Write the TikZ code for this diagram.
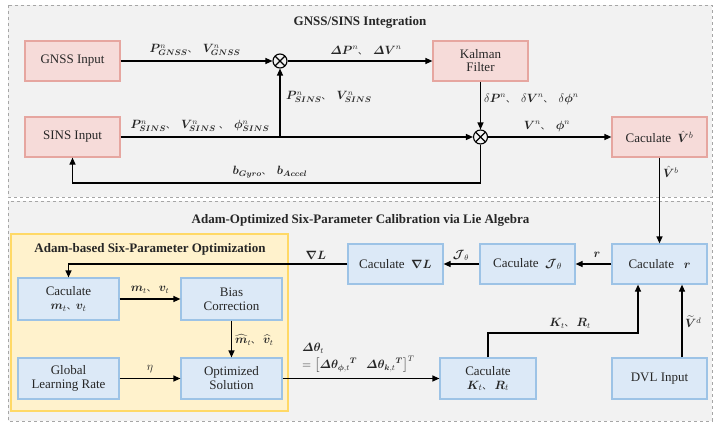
\documentclass[tikz,border=0pt]{standalone}
\usepackage{amsmath,bm}
\usepackage{fontspec}
\setmainfont{Liberation Serif}
\newfontfamily\cjkfont{Noto Sans CJK SC}
\newcommand\dun{\smash{\cjkfont\fontsize{9}{10}\selectfont 、}}
\usetikzlibrary{arrows.meta,positioning}
\definecolor{bgray}{HTML}{F2F2F2}
\definecolor{bline}{HTML}{A6A6A6}
\definecolor{redfill}{HTML}{F6DBD9}
\definecolor{redline}{HTML}{E6A6A0}
\definecolor{bluefill}{HTML}{DCE9F7}
\definecolor{blueline}{HTML}{9DC3E6}
\definecolor{yelfill}{HTML}{FFF2CC}
\definecolor{yelline}{HTML}{FFD966}
\definecolor{txt}{HTML}{262626}
\begin{document}
\begin{tikzpicture}[x=1pt,y=-1pt,
  every node/.style={font=\fontsize{13}{15}\selectfont, text=txt},
  region/.style={draw=bline, dashed, fill=bgray, line width=0.8pt},
  redbox/.style={draw=redline, fill=redfill, line width=1.2pt, minimum width=95pt, minimum height=40pt, align=center, inner sep=2pt},
  bluebox/.style={draw=blueline, fill=bluefill, line width=1.2pt, minimum width=95pt, minimum height=40pt, align=center, inner sep=2pt},
  otnode/.style={circle, draw=black, line width=1.1pt, minimum size=14pt, inner sep=0pt,
    path picture={\draw[line width=1.1pt] (path picture bounding box.north west)--(path picture bounding box.south east)
      (path picture bounding box.north east)--(path picture bounding box.south west);}},
  arr/.style={draw=black, line width=1.2pt, -{Triangle[length=7pt,width=6pt]}},
  lbl/.style={inner sep=1pt, font=\fontsize{12}{14}\selectfont},
  ttl/.style={font=\bfseries\fontsize{13}{15}\selectfont}
]
\useasboundingbox (0,0) rectangle (719,428);
% regions
\draw[region] (8,5) rectangle (712,197);
\draw[region] (8,201) rectangle (712,421);
\fill[yelfill] (11,234) rectangle (288,411);
\draw[yelline, line width=1.2pt] (11,234) rectangle (288,411);
\node[ttl] (t1) at (360,22) {GNSS/SINS Integration};
\node[ttl] (t2) at (360.5,220) {Adam-Optimized Six-Parameter Calibration via Lie Algebra};
\node[ttl] (t3) at (150,249) {Adam-based Six-Parameter Optimization};

% top nodes
\node[redbox] (gnss) at (72.5,61) {GNSS Input};
\node[redbox] (sins) at (72.5,137) {SINS Input};
\node[redbox] (kal) at (480.5,61) {Kalman\\[-2pt]Filter};
\node[redbox] (cvb) at (659.5,137) {Caculate\ \ $\hat{\bm{V}}^{b}$};
\node[otnode] (ot1) at (280,61) {};
\node[otnode] (ot2) at (480.5,137) {};
\coordinate (br) at (280,137);
\coordinate (fb) at (480.5,183);

% bottom nodes
\node[bluebox, minimum width=101pt, minimum height=42pt] (cm) at (68.5,299) {Caculate\\[-1pt]$\bm{m}_t$\dun$\bm{v}_t$};
\node[bluebox, minimum width=101pt, minimum height=42pt] (bias) at (231.5,299) {Bias\\[-1pt]Correction};
\node[bluebox, minimum width=101pt, minimum height=41pt] (glr) at (68.5,378.5) {Global\\[-1pt]Learning Rate};
\node[bluebox, minimum width=101pt, minimum height=41pt] (opt) at (231.5,378.5) {Optimized\\[-1pt]Solution};
\node[bluebox] (cl) at (395.5,264) {Caculate\ \ $\bm{\nabla}\bm{L}$};
\node[bluebox] (cj) at (527.5,264) {Caculate\ \ $\bm{\mathcal{J}}_{\theta}$};
\node[bluebox] (cr) at (659.5,264) {Caculate\ \ \ $\bm{r}$};
\node[bluebox, minimum width=96pt, minimum height=41pt] (ck) at (488,378.5) {Caculate\\[-1pt]$\bm{K}_t$\dun\ $\bm{R}_t$};
\node[bluebox, minimum height=41pt] (dvl) at (659.5,378.5) {DVL Input};
\coordinate (kr) at (638,333);

% top connectors
\draw[arr] (gnss) -- (ot1);
\draw[arr] (ot1) -- (kal);
\draw[arr] (sins) -- (ot2);
\draw[arr] (br) -- (ot1);
\draw[arr] (kal) -- (ot2);
\draw[arr] (ot2) -- (cvb);
\draw[arr] (ot2) -- (fb) -| (sins);
\draw[arr] (cvb) -- (cr);

% bottom connectors
\draw[arr] (cr) -- (cj);
\draw[arr] (cj) -- (cl);
\draw[arr] (cl.west) -| (cm.north);
\draw[arr] (cm) -- (bias);
\draw[arr] (bias) -- (opt);
\draw[arr] (glr) -- (opt);
\draw[arr] (opt) -- (ck);
\draw[arr] (ck.north) |- (kr) -- (cr.south -| kr);
\draw[arr] ([xshift=22.5pt]dvl.north) -- ([xshift=22.5pt]cr.south);

% top labels
\node[lbl] (l1) at (195,50) {$\bm{P}^{n}_{\bm{GNSS}}$\dun\ \ $\bm{V}^{n}_{\bm{GNSS}}$};
\node[lbl] (l2) at (366,50) {$\bm{\varDelta P}^{n}$\dun\ \ $\bm{\varDelta V}^{n}$};
\node[lbl, anchor=west] (l3) at (285,97) {$\bm{P}^{n}_{\bm{SINS}}$\dun\ \ $\bm{V}^{n}_{\bm{SINS}}$};
\node[lbl] (l4) at (200,126) {$\bm{P}^{n}_{\bm{SINS}}$\dun\ \ $\bm{V}^{n}_{\bm{SINS}}$\ \dun\ \ $\bm{\phi}^{n}_{\bm{SINS}}$};
\node[lbl, anchor=west] (l5) at (483,99) {$\delta\bm{P}^{n}$\dun\ \ $\delta\bm{V}^{n}$\dun\ \ $\delta\bm{\phi}^{n}$};
\node[lbl] (l6) at (547,126) {$\bm{V}^{n}$\dun\ \ $\bm{\phi}^{n}$};
\node[lbl] (l7) at (270,172) {$\bm{b}_{\bm{Gyro}}$\dun\ \ $\bm{b}_{\bm{Accel}}$};
\node[lbl, anchor=west] (l8) at (662,172) {$\hat{\bm{V}}^{b}$};

% bottom labels
\node[lbl] (l9) at (316,255) {$\bm{\nabla}\bm{L}$};
\node[lbl] (l10) at (461,255) {$\bm{\mathcal{J}}_{\theta}$};
\node[lbl] (l11) at (597,255) {$\bm{r}$};
\node[lbl] (l12) at (150,290) {$\bm{m}_t$\dun\ $\bm{v}_t$};
\node[lbl, anchor=west] (l13) at (234,340) {$\widehat{\bm{m}}_t$\dun\ $\widehat{\bm{v}}_t$};
\node[lbl] (l14) at (150,369) {$\eta$};
\node[lbl, anchor=west, align=left] (l15) at (301,358) {$\bm{\varDelta\theta}_t$\\[1pt]$=\bigl[\bm{\varDelta\theta}_{\bm{\phi},t}{}^{\bm{T}}\ \ \ \bm{\varDelta\theta}_{\bm{k},t}{}^{\bm{T}}\bigr]^{T}$};
\node[lbl] (l16) at (570,323) {$\bm{K}_t$\dun\ $\bm{R}_t$};
\node[lbl, anchor=west] (l17) at (684,322) {$\widetilde{\bm{V}}^{d}$};
\end{tikzpicture}
\end{document}
